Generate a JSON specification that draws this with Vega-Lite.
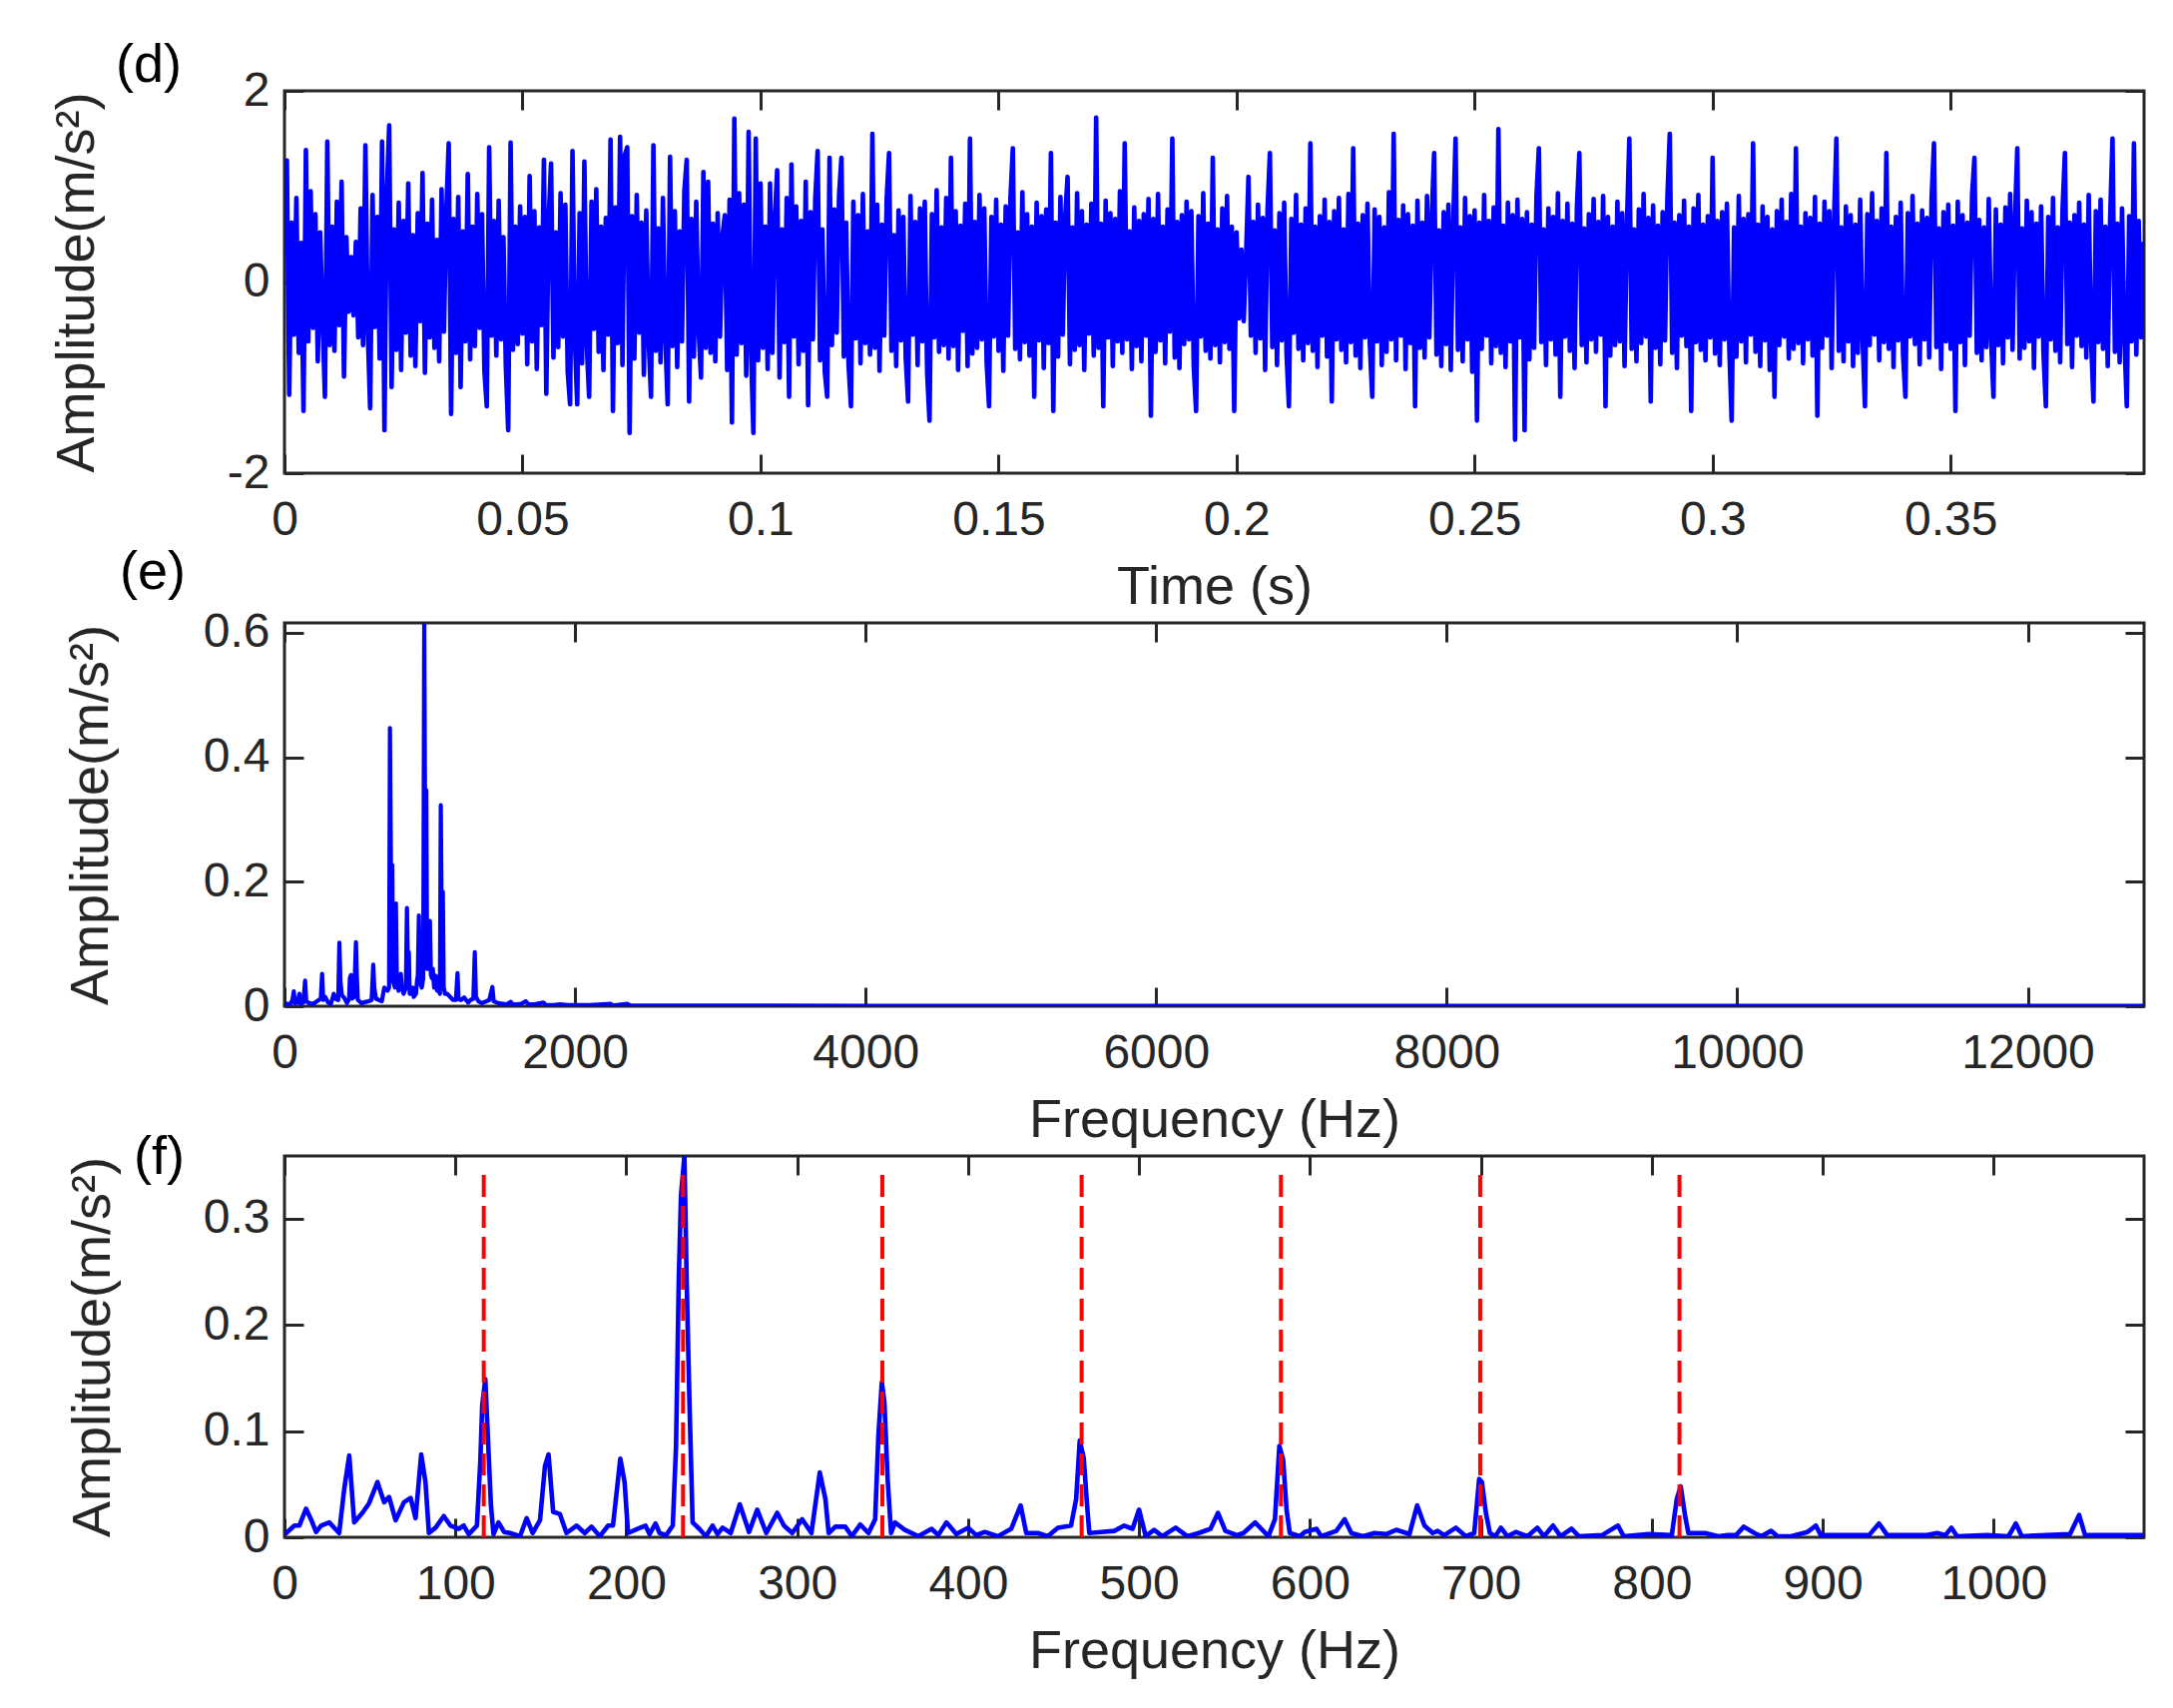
{
"$schema":"https://vega.github.io/schema/vega-lite/v6.json",
"padding":{"left":48,"top":37,"right":0,"bottom":0},
"background":"#ffffff",
"config":{
"font":"Liberation Sans",
"view":{"stroke":"#262626","strokeWidth":3},
"axis":{"domain":false,"grid":false,"tickColor":"#262626","tickWidth":3,"tickSize":-19,"labelFont":"Liberation Sans","labelFontSize":48,"labelColor":"#262626","labelPadding":34,"labelFlush":false,"labelOverlap":false,"titleFont":"Liberation Sans","titleFontSize":54,"titleFontWeight":"normal","titleColor":"#262626"},
"axisX":{"labelPadding":42,"titlePadding":16},
"title":{"font":"Liberation Sans","fontSize":54,"fontWeight":"normal","color":"#000000","anchor":"start","frame":"group","offset":0}
},
"bounds":"flush",
"spacing":150,
"datasets":{
"sig":[
{"t":0,"a":0.35},{"t":0.0005,"a":1.27},{"t":0.001,"a":-1.18},{"t":0.0015,"a":0.62},{"t":0.002,"a":-0.55},{"t":0.0025,"a":0.88},{"t":0.003,"a":-0.74},{"t":0.0035,"a":0.41},{"t":0.004,"a":-1.35},{"t":0.0045,"a":1.38},{"t":0.005,"a":-0.62},{"t":0.0055,"a":0.95},{"t":0.006,"a":-0.48},{"t":0.0065,"a":0.71},{"t":0.007,"a":-0.83},{"t":0.0075,"a":0.52},{"t":0.008,"a":-0.39},{"t":0.0085,"a":-1.2},{"t":0.009,"a":1.47},{"t":0.0095,"a":-0.66},
{"t":0.01,"a":0.58},{"t":0.0105,"a":-0.72},{"t":0.011,"a":0.84},{"t":0.0115,"a":-0.45},{"t":0.012,"a":1.05},{"t":0.0125,"a":-0.99},{"t":0.013,"a":0.47},{"t":0.0135,"a":-0.31},{"t":0.014,"a":0.26},{"t":0.0145,"a":-0.35},{"t":0.015,"a":0.42},{"t":0.0155,"a":-0.58},{"t":0.016,"a":0.77},{"t":0.0165,"a":-0.66},{"t":0.017,"a":1.43},{"t":0.0175,"a":-0.52},{"t":0.018,"a":-1.32},{"t":0.0185,"a":0.91},{"t":0.019,"a":-0.47},{"t":0.0195,"a":0.68},
{"t":0.02,"a":-0.8},{"t":0.0205,"a":1.47},{"t":0.021,"a":-1.55},{"t":0.0215,"a":0.93},{"t":0.022,"a":1.64},{"t":0.0225,"a":-1.1},{"t":0.023,"a":0.55},{"t":0.0235,"a":-0.71},{"t":0.024,"a":0.83},{"t":0.0245,"a":-0.92},{"t":0.025,"a":0.64},{"t":0.0255,"a":-0.53},{"t":0.026,"a":1.03},{"t":0.0265,"a":-0.77},{"t":0.027,"a":0.49},{"t":0.0275,"a":-0.88},{"t":0.028,"a":0.72},{"t":0.0285,"a":-0.41},{"t":0.029,"a":1.14},{"t":0.0295,"a":-0.95},
{"t":0.03,"a":0.61},{"t":0.0305,"a":-0.58},{"t":0.031,"a":0.86},{"t":0.0315,"a":-0.69},{"t":0.032,"a":0.44},{"t":0.0325,"a":-0.83},{"t":0.033,"a":0.97},{"t":0.0335,"a":-0.52},{"t":0.034,"a":0.75},{"t":0.0345,"a":1.45},{"t":0.035,"a":-1.38},{"t":0.0355,"a":0.66},{"t":0.036,"a":-0.74},{"t":0.0365,"a":0.89},{"t":0.037,"a":-1.1},{"t":0.0375,"a":0.53},{"t":0.038,"a":-0.62},{"t":0.0385,"a":1.13},{"t":0.039,"a":-0.81},{"t":0.0395,"a":0.58},
{"t":0.04,"a":-0.67},{"t":0.0405,"a":0.92},{"t":0.041,"a":-0.48},{"t":0.0415,"a":0.71},{"t":0.042,"a":-0.93},{"t":0.0425,"a":-1.3},{"t":0.043,"a":1.41},{"t":0.0435,"a":-0.56},{"t":0.044,"a":0.64},{"t":0.0445,"a":-0.77},{"t":0.045,"a":0.85},{"t":0.0455,"a":-0.6},{"t":0.046,"a":0.47},{"t":0.0465,"a":-0.88},{"t":0.047,"a":-1.55},{"t":0.0475,"a":1.46},{"t":0.048,"a":-0.71},{"t":0.0485,"a":0.58},{"t":0.049,"a":-0.65},{"t":0.0495,"a":0.79},
{"t":0.05,"a":-0.54},{"t":0.0505,"a":0.68},{"t":0.051,"a":-0.86},{"t":0.0515,"a":1.11},{"t":0.052,"a":-0.62},{"t":0.0525,"a":0.74},{"t":0.053,"a":-0.91},{"t":0.0535,"a":0.57},{"t":0.054,"a":-0.45},{"t":0.0545,"a":1.28},{"t":0.055,"a":-1.17},{"t":0.0555,"a":0.66},{"t":0.056,"a":1.24},{"t":0.0565,"a":-0.79},{"t":0.057,"a":0.52},{"t":0.0575,"a":-0.68},{"t":0.058,"a":0.93},{"t":0.0585,"a":-0.57},{"t":0.059,"a":0.81},{"t":0.0595,"a":-0.94},
{"t":0.06,"a":-1.28},{"t":0.0605,"a":1.37},{"t":0.061,"a":-0.61},{"t":0.0615,"a":-1.28},{"t":0.062,"a":0.72},{"t":0.0625,"a":-0.85},{"t":0.063,"a":1.26},{"t":0.0635,"a":-0.66},{"t":0.064,"a":-1.2},{"t":0.0645,"a":0.84},{"t":0.065,"a":-0.49},{"t":0.0655,"a":0.97},{"t":0.066,"a":-0.73},{"t":0.0665,"a":0.58},{"t":0.067,"a":-0.92},{"t":0.0675,"a":0.67},{"t":0.068,"a":-0.55},{"t":0.0685,"a":1.49},{"t":0.069,"a":-1.35},{"t":0.0695,"a":0.78},
{"t":0.07,"a":-0.64},{"t":0.0705,"a":1.52},{"t":0.071,"a":-0.87},{"t":0.0715,"a":1.33},{"t":0.072,"a":1.41},{"t":0.0725,"a":-1.58},{"t":0.073,"a":0.69},{"t":0.0735,"a":-0.8},{"t":0.074,"a":0.91},{"t":0.0745,"a":-0.53},{"t":0.075,"a":0.62},{"t":0.0755,"a":-0.97},{"t":0.076,"a":0.75},{"t":0.0765,"a":-0.61},{"t":0.077,"a":-1.2},{"t":0.0775,"a":1.43},{"t":0.078,"a":-0.72},{"t":0.0785,"a":0.56},{"t":0.079,"a":-0.84},{"t":0.0795,"a":0.88},
{"t":0.08,"a":-0.58},{"t":0.0805,"a":-1.28},{"t":0.081,"a":1.31},{"t":0.0815,"a":-0.67},{"t":0.082,"a":0.74},{"t":0.0825,"a":-0.89},{"t":0.083,"a":0.53},{"t":0.0835,"a":-0.62},{"t":0.084,"a":0.95},{"t":0.0845,"a":1.28},{"t":0.085,"a":-1.25},{"t":0.0855,"a":0.66},{"t":0.086,"a":-0.78},{"t":0.0865,"a":0.84},{"t":0.087,"a":-0.51},{"t":0.0875,"a":-1.0},{"t":0.088,"a":1.15},{"t":0.0885,"a":-0.69},{"t":0.089,"a":1.05},{"t":0.0895,"a":-0.74},
{"t":0.09,"a":0.61},{"t":0.0905,"a":-0.83},{"t":0.091,"a":0.72},{"t":0.0915,"a":-0.57},{"t":0.092,"a":0.48},{"t":0.0925,"a":0.7},{"t":0.093,"a":-0.92},{"t":0.0935,"a":0.86},{"t":0.094,"a":-1.47},{"t":0.0945,"a":1.71},{"t":0.095,"a":-0.76},{"t":0.0955,"a":0.93},{"t":0.096,"a":-0.64},{"t":0.0965,"a":0.81},{"t":0.097,"a":-0.98},{"t":0.0975,"a":1.57},{"t":0.098,"a":-0.7},{"t":0.0985,"a":-1.58},{"t":0.099,"a":1.5},{"t":0.0995,"a":-0.82},
{"t":0.1,"a":1.03},{"t":0.1005,"a":-0.69},{"t":0.101,"a":0.58},{"t":0.1015,"a":-0.91},{"t":0.102,"a":1.03},{"t":0.1025,"a":-0.74},{"t":0.103,"a":0.67},{"t":0.1035,"a":1.17},{"t":0.104,"a":-1.0},{"t":0.1045,"a":0.55},{"t":0.105,"a":-0.63},{"t":0.1055,"a":0.88},{"t":0.106,"a":-1.2},{"t":0.1065,"a":1.23},{"t":0.107,"a":-0.57},{"t":0.1075,"a":0.79},{"t":0.108,"a":-0.86},{"t":0.1085,"a":0.64},{"t":0.109,"a":-0.72},{"t":0.1095,"a":1.05},
{"t":0.11,"a":-1.29},{"t":0.1105,"a":0.73},{"t":0.111,"a":-0.6},{"t":0.1115,"a":0.87},{"t":0.112,"a":1.37},{"t":0.1125,"a":-0.82},{"t":0.113,"a":0.55},{"t":0.1135,"a":-0.94},{"t":0.114,"a":-1.2},{"t":0.1145,"a":1.3},{"t":0.115,"a":-0.66},{"t":0.1155,"a":0.76},{"t":0.116,"a":-0.53},{"t":0.1165,"a":0.91},{"t":0.117,"a":1.3},{"t":0.1175,"a":-0.78},{"t":0.118,"a":0.62},{"t":0.1185,"a":-0.87},{"t":0.119,"a":-1.3},{"t":0.1195,"a":0.84},
{"t":0.12,"a":-0.59},{"t":0.1205,"a":0.7},{"t":0.121,"a":-0.85},{"t":0.1215,"a":0.92},{"t":0.122,"a":-0.64},{"t":0.1225,"a":0.53},{"t":0.123,"a":-0.76},{"t":0.1235,"a":1.55},{"t":0.124,"a":-0.69},{"t":0.1245,"a":0.81},{"t":0.125,"a":-0.93},{"t":0.1255,"a":0.6},{"t":0.126,"a":-0.56},{"t":0.1265,"a":0.87},{"t":0.127,"a":1.35},{"t":0.1275,"a":-0.72},{"t":0.128,"a":0.49},{"t":0.1285,"a":-0.88},{"t":0.129,"a":0.75},{"t":0.1295,"a":-0.61},
{"t":0.13,"a":0.68},{"t":0.1305,"a":-0.79},{"t":0.131,"a":-1.25},{"t":0.1315,"a":0.9},{"t":0.132,"a":-0.55},{"t":0.1325,"a":0.63},{"t":0.133,"a":-0.87},{"t":0.1335,"a":0.77},{"t":0.134,"a":-0.62},{"t":0.1345,"a":0.84},{"t":0.135,"a":-0.95},{"t":0.1355,"a":-1.45},{"t":0.136,"a":0.71},{"t":0.1365,"a":-0.58},{"t":0.137,"a":0.96},{"t":0.1375,"a":-0.73},{"t":0.138,"a":0.57},{"t":0.1385,"a":-0.66},{"t":0.139,"a":0.88},{"t":0.1395,"a":-0.8},
{"t":0.14,"a":1.3},{"t":0.1405,"a":-0.67},{"t":0.141,"a":0.74},{"t":0.1415,"a":-0.92},{"t":0.142,"a":0.59},{"t":0.1425,"a":-0.51},{"t":0.143,"a":0.82},{"t":0.1435,"a":-0.88},{"t":0.144,"a":1.5},{"t":0.1445,"a":-0.75},{"t":0.145,"a":0.63},{"t":0.1455,"a":-0.69},{"t":0.146,"a":0.91},{"t":0.1465,"a":-0.6},{"t":0.147,"a":0.77},{"t":0.1475,"a":-0.84},{"t":0.148,"a":-1.3},{"t":0.1485,"a":0.68},{"t":0.149,"a":-0.57},{"t":0.1495,"a":0.86},
{"t":0.15,"a":-0.72},{"t":0.1505,"a":0.6},{"t":0.151,"a":-0.93},{"t":0.1515,"a":0.79},{"t":0.152,"a":-0.56},{"t":0.1525,"a":0.87},{"t":0.153,"a":1.4},{"t":0.1535,"a":-0.7},{"t":0.154,"a":0.52},{"t":0.1545,"a":-0.81},{"t":0.155,"a":0.94},{"t":0.1555,"a":-0.63},{"t":0.156,"a":0.71},{"t":0.1565,"a":-0.77},{"t":0.157,"a":0.58},{"t":0.1575,"a":-1.2},{"t":0.158,"a":0.83},{"t":0.1585,"a":-0.61},{"t":0.159,"a":0.69},{"t":0.1595,"a":-0.9},
{"t":0.16,"a":0.76},{"t":0.1605,"a":-0.64},{"t":0.161,"a":1.35},{"t":0.1615,"a":-1.35},{"t":0.162,"a":0.62},{"t":0.1625,"a":-0.78},{"t":0.163,"a":0.89},{"t":0.1635,"a":-0.55},{"t":0.164,"a":0.68},{"t":0.1645,"a":1.1},{"t":0.165,"a":-0.86},{"t":0.1655,"a":0.57},{"t":0.166,"a":-0.71},{"t":0.1665,"a":0.93},{"t":0.167,"a":-0.66},{"t":0.1675,"a":0.74},{"t":0.168,"a":-0.92},{"t":0.1685,"a":0.6},{"t":0.169,"a":-0.54},{"t":0.1695,"a":0.82},
{"t":0.17,"a":-0.77},{"t":0.1705,"a":1.72},{"t":0.171,"a":-0.69},{"t":0.1715,"a":0.61},{"t":0.172,"a":-1.3},{"t":0.1725,"a":0.85},{"t":0.173,"a":-0.58},{"t":0.1735,"a":0.72},{"t":0.174,"a":-0.88},{"t":0.1745,"a":0.66},{"t":0.175,"a":-0.62},{"t":0.1755,"a":0.95},{"t":0.176,"a":-0.74},{"t":0.1765,"a":1.45},{"t":0.177,"a":-0.6},{"t":0.1775,"a":0.53},{"t":0.178,"a":-0.91},{"t":0.1785,"a":0.78},{"t":0.179,"a":-0.67},{"t":0.1795,"a":0.64},
{"t":0.18,"a":-0.83},{"t":0.1805,"a":0.71},{"t":0.181,"a":-0.56},{"t":0.1815,"a":0.87},{"t":0.182,"a":-1.4},{"t":0.1825,"a":0.66},{"t":0.183,"a":-0.73},{"t":0.1835,"a":0.92},{"t":0.184,"a":-0.61},{"t":0.1845,"a":0.58},{"t":0.185,"a":-0.85},{"t":0.1855,"a":0.76},{"t":0.186,"a":-0.52},{"t":0.1865,"a":1.5},{"t":0.187,"a":-0.79},{"t":0.1875,"a":0.63},{"t":0.188,"a":-0.9},{"t":0.1885,"a":0.7},{"t":0.189,"a":-0.65},{"t":0.1895,"a":0.84},
{"t":0.19,"a":-0.6},{"t":0.1905,"a":0.74},{"t":0.191,"a":-0.88},{"t":0.1915,"a":-1.35},{"t":0.192,"a":0.69},{"t":0.1925,"a":-0.57},{"t":0.193,"a":0.93},{"t":0.1935,"a":-0.72},{"t":0.194,"a":0.61},{"t":0.1945,"a":-0.8},{"t":0.195,"a":1.3},{"t":0.1955,"a":-0.66},{"t":0.196,"a":0.55},{"t":0.1965,"a":-0.84},{"t":0.197,"a":0.77},{"t":0.1975,"a":-0.63},{"t":0.198,"a":0.9},{"t":0.1985,"a":-0.7},{"t":0.199,"a":0.58},{"t":0.1995,"a":-1.35},
{"t":0.2,"a":0.52},{"t":0.2005,"a":-0.38},{"t":0.201,"a":0.34},{"t":0.2015,"a":-0.41},{"t":0.202,"a":0.29},{"t":0.2025,"a":1.1},{"t":0.203,"a":-0.56},{"t":0.2035,"a":0.63},{"t":0.204,"a":-0.74},{"t":0.2045,"a":0.81},{"t":0.205,"a":-0.59},{"t":0.2055,"a":0.67},{"t":0.206,"a":-0.92},{"t":0.2065,"a":0.75},{"t":0.207,"a":1.35},{"t":0.2075,"a":-0.68},{"t":0.208,"a":0.54},{"t":0.2085,"a":-0.87},{"t":0.209,"a":0.72},{"t":0.2095,"a":-0.61},
{"t":0.21,"a":0.83},{"t":0.2105,"a":-0.75},{"t":0.211,"a":-1.3},{"t":0.2115,"a":0.66},{"t":0.212,"a":-0.53},{"t":0.2125,"a":0.91},{"t":0.213,"a":-0.7},{"t":0.2135,"a":0.6},{"t":0.214,"a":-0.82},{"t":0.2145,"a":0.77},{"t":0.215,"a":-0.64},{"t":0.2155,"a":1.45},{"t":0.216,"a":-0.72},{"t":0.2165,"a":0.58},{"t":0.217,"a":-0.89},{"t":0.2175,"a":0.69},{"t":0.218,"a":-0.56},{"t":0.2185,"a":0.86},{"t":0.219,"a":-0.78},{"t":0.2195,"a":0.63},
{"t":0.22,"a":-1.25},{"t":0.2205,"a":0.74},{"t":0.221,"a":-0.6},{"t":0.2215,"a":0.88},{"t":0.222,"a":-0.71},{"t":0.2225,"a":0.55},{"t":0.223,"a":-0.84},{"t":0.2235,"a":0.92},{"t":0.224,"a":-0.63},{"t":0.2245,"a":1.4},{"t":0.225,"a":-0.77},{"t":0.2255,"a":0.61},{"t":0.226,"a":-0.9},{"t":0.2265,"a":0.7},{"t":0.227,"a":-0.58},{"t":0.2275,"a":0.82},{"t":0.228,"a":-0.66},{"t":0.2285,"a":-1.2},{"t":0.229,"a":0.76},{"t":0.2295,"a":-0.62},
{"t":0.23,"a":0.68},{"t":0.2305,"a":-0.87},{"t":0.231,"a":0.57},{"t":0.2315,"a":-0.73},{"t":0.232,"a":0.94},{"t":0.2325,"a":-0.6},{"t":0.233,"a":1.55},{"t":0.2335,"a":-0.82},{"t":0.234,"a":0.65},{"t":0.2345,"a":-0.56},{"t":0.235,"a":0.8},{"t":0.2355,"a":-0.91},{"t":0.236,"a":0.71},{"t":0.2365,"a":-0.64},{"t":0.237,"a":0.59},{"t":0.2375,"a":-1.3},{"t":0.238,"a":0.85},{"t":0.2385,"a":-0.69},{"t":0.239,"a":0.62},{"t":0.2395,"a":-0.79},
{"t":0.24,"a":0.9},{"t":0.2405,"a":-0.58},{"t":0.241,"a":0.67},{"t":0.2415,"a":1.35},{"t":0.242,"a":-0.76},{"t":0.2425,"a":0.54},{"t":0.243,"a":-0.88},{"t":0.2435,"a":0.73},{"t":0.244,"a":-0.65},{"t":0.2445,"a":0.81},{"t":0.245,"a":-0.92},{"t":0.2455,"a":0.6},{"t":0.246,"a":1.5},{"t":0.2465,"a":-0.71},{"t":0.247,"a":0.57},{"t":0.2475,"a":-0.83},{"t":0.248,"a":0.88},{"t":0.2485,"a":-0.6},{"t":0.249,"a":0.69},{"t":0.2495,"a":-0.94},
{"t":0.25,"a":0.75},{"t":0.2505,"a":-1.45},{"t":0.251,"a":0.62},{"t":0.2515,"a":-0.7},{"t":0.252,"a":0.91},{"t":0.2525,"a":-0.56},{"t":0.253,"a":0.64},{"t":0.2535,"a":-0.85},{"t":0.254,"a":0.78},{"t":0.2545,"a":-0.67},{"t":0.255,"a":1.6},{"t":0.2555,"a":-0.74},{"t":0.256,"a":0.59},{"t":0.2565,"a":-0.89},{"t":0.257,"a":0.83},{"t":0.2575,"a":-0.62},{"t":0.258,"a":0.7},{"t":0.2585,"a":-1.65},{"t":0.259,"a":0.86},{"t":0.2595,"a":-0.58},
{"t":0.26,"a":0.66},{"t":0.2605,"a":-1.55},{"t":0.261,"a":0.73},{"t":0.2615,"a":-0.81},{"t":0.262,"a":0.6},{"t":0.2625,"a":-0.69},{"t":0.263,"a":0.9},{"t":0.2635,"a":1.4},{"t":0.264,"a":-0.63},{"t":0.2645,"a":0.55},{"t":0.265,"a":-0.87},{"t":0.2655,"a":0.77},{"t":0.266,"a":-0.6},{"t":0.2665,"a":0.68},{"t":0.267,"a":-0.76},{"t":0.2675,"a":0.93},{"t":0.268,"a":-1.2},{"t":0.2685,"a":0.64},{"t":0.269,"a":-0.57},{"t":0.2695,"a":0.82},
{"t":0.27,"a":-0.72},{"t":0.2705,"a":0.61},{"t":0.271,"a":-0.9},{"t":0.2715,"a":0.79},{"t":0.272,"a":1.35},{"t":0.2725,"a":-0.66},{"t":0.273,"a":0.56},{"t":0.2735,"a":-0.84},{"t":0.274,"a":0.71},{"t":0.2745,"a":-0.6},{"t":0.275,"a":0.87},{"t":0.2755,"a":-0.73},{"t":0.276,"a":0.63},{"t":0.2765,"a":-0.55},{"t":0.277,"a":0.9},{"t":0.2775,"a":-1.3},{"t":0.278,"a":0.68},{"t":0.2785,"a":-0.77},{"t":0.279,"a":0.58},{"t":0.2795,"a":-0.66},
{"t":0.28,"a":0.84},{"t":0.2805,"a":-0.62},{"t":0.281,"a":0.72},{"t":0.2815,"a":-0.88},{"t":0.282,"a":0.6},{"t":0.2825,"a":1.5},{"t":0.283,"a":-0.7},{"t":0.2835,"a":0.55},{"t":0.284,"a":-0.83},{"t":0.2845,"a":0.76},{"t":0.285,"a":-0.64},{"t":0.2855,"a":0.92},{"t":0.286,"a":-0.57},{"t":0.2865,"a":0.67},{"t":0.287,"a":-1.25},{"t":0.2875,"a":0.8},{"t":0.288,"a":-0.69},{"t":0.2885,"a":0.59},{"t":0.289,"a":-0.86},{"t":0.2895,"a":0.73},
{"t":0.29,"a":-0.61},{"t":0.2905,"a":0.88},{"t":0.291,"a":1.55},{"t":0.2915,"a":-0.74},{"t":0.292,"a":0.62},{"t":0.2925,"a":-0.9},{"t":0.293,"a":0.7},{"t":0.2935,"a":-0.56},{"t":0.294,"a":0.85},{"t":0.2945,"a":-0.67},{"t":0.295,"a":0.58},{"t":0.2955,"a":-1.35},{"t":0.296,"a":0.77},{"t":0.2965,"a":-0.63},{"t":0.297,"a":0.91},{"t":0.2975,"a":-0.71},{"t":0.298,"a":0.6},{"t":0.2985,"a":-0.82},{"t":0.299,"a":0.69},{"t":0.2995,"a":-0.58},
{"t":0.3,"a":1.3},{"t":0.3005,"a":-0.75},{"t":0.301,"a":0.64},{"t":0.3015,"a":-0.87},{"t":0.302,"a":0.73},{"t":0.3025,"a":-0.6},{"t":0.303,"a":0.82},{"t":0.3035,"a":-0.69},{"t":0.304,"a":-1.45},{"t":0.3045,"a":0.57},{"t":0.305,"a":-0.78},{"t":0.3055,"a":0.9},{"t":0.306,"a":-0.62},{"t":0.3065,"a":0.66},{"t":0.307,"a":-0.84},{"t":0.3075,"a":0.71},{"t":0.308,"a":-0.55},{"t":0.3085,"a":1.45},{"t":0.309,"a":-0.73},{"t":0.3095,"a":0.6},
{"t":0.31,"a":-0.88},{"t":0.3105,"a":0.79},{"t":0.311,"a":-0.61},{"t":0.3115,"a":0.68},{"t":0.312,"a":-0.92},{"t":0.3125,"a":0.55},{"t":0.313,"a":-1.2},{"t":0.3135,"a":0.74},{"t":0.314,"a":-0.66},{"t":0.3145,"a":0.86},{"t":0.315,"a":-0.57},{"t":0.3155,"a":0.63},{"t":0.316,"a":-0.8},{"t":0.3165,"a":0.92},{"t":0.317,"a":-0.7},{"t":0.3175,"a":1.4},{"t":0.318,"a":-0.64},{"t":0.3185,"a":0.58},{"t":0.319,"a":-0.85},{"t":0.3195,"a":0.72},
{"t":0.32,"a":-0.6},{"t":0.3205,"a":0.67},{"t":0.321,"a":-0.77},{"t":0.3215,"a":0.89},{"t":0.322,"a":-1.4},{"t":0.3225,"a":0.61},{"t":0.323,"a":-0.69},{"t":0.3235,"a":0.84},{"t":0.324,"a":-0.56},{"t":0.3245,"a":0.74},{"t":0.325,"a":-0.9},{"t":0.3255,"a":0.65},{"t":0.326,"a":1.5},{"t":0.3265,"a":-0.72},{"t":0.327,"a":0.57},{"t":0.3275,"a":-0.83},{"t":0.328,"a":0.79},{"t":0.3285,"a":-0.62},{"t":0.329,"a":0.7},{"t":0.3295,"a":-0.88},
{"t":0.33,"a":0.6},{"t":0.3305,"a":-0.74},{"t":0.331,"a":0.86},{"t":0.3315,"a":-0.59},{"t":0.332,"a":-1.3},{"t":0.3325,"a":0.71},{"t":0.333,"a":-0.66},{"t":0.3335,"a":0.93},{"t":0.334,"a":-0.55},{"t":0.3345,"a":0.64},{"t":0.335,"a":-0.82},{"t":0.3355,"a":0.77},{"t":0.336,"a":-0.63},{"t":0.3365,"a":1.35},{"t":0.337,"a":-0.7},{"t":0.3375,"a":0.58},{"t":0.338,"a":-0.89},{"t":0.3385,"a":0.68},{"t":0.339,"a":-0.61},{"t":0.3395,"a":0.83},
{"t":0.34,"a":-0.76},{"t":0.3405,"a":-1.2},{"t":0.341,"a":0.72},{"t":0.3415,"a":-0.57},{"t":0.342,"a":0.9},{"t":0.3425,"a":-0.65},{"t":0.343,"a":0.61},{"t":0.3435,"a":-0.86},{"t":0.344,"a":0.75},{"t":0.3445,"a":-0.6},{"t":0.345,"a":0.67},{"t":0.3455,"a":-0.79},{"t":0.346,"a":0.88},{"t":0.3465,"a":1.45},{"t":0.347,"a":-0.68},{"t":0.3475,"a":0.56},{"t":0.348,"a":-0.91},{"t":0.3485,"a":0.73},{"t":0.349,"a":-0.62},{"t":0.3495,"a":0.81},
{"t":0.35,"a":-0.7},{"t":0.3505,"a":0.59},{"t":0.351,"a":-1.35},{"t":0.3515,"a":0.84},{"t":0.352,"a":-0.63},{"t":0.3525,"a":0.7},{"t":0.353,"a":-0.87},{"t":0.3535,"a":0.62},{"t":0.354,"a":-0.56},{"t":0.3545,"a":0.91},{"t":0.355,"a":1.3},{"t":0.3555,"a":-0.74},{"t":0.356,"a":0.65},{"t":0.3565,"a":-0.82},{"t":0.357,"a":0.57},{"t":0.3575,"a":-0.68},{"t":0.358,"a":0.87},{"t":0.3585,"a":-0.6},{"t":0.359,"a":-1.2},{"t":0.3595,"a":0.76},
{"t":0.36,"a":-0.66},{"t":0.3605,"a":0.6},{"t":0.361,"a":-0.85},{"t":0.3615,"a":0.78},{"t":0.362,"a":-0.58},{"t":0.3625,"a":0.92},{"t":0.363,"a":-0.71},{"t":0.3635,"a":0.64},{"t":0.364,"a":1.4},{"t":0.3645,"a":-0.8},{"t":0.365,"a":0.56},{"t":0.3655,"a":-0.69},{"t":0.366,"a":0.85},{"t":0.3665,"a":-0.62},{"t":0.367,"a":0.73},{"t":0.3675,"a":-0.9},{"t":0.368,"a":0.61},{"t":0.3685,"a":-0.57},{"t":0.369,"a":0.79},{"t":0.3695,"a":-0.74},
{"t":0.37,"a":-1.3},{"t":0.3705,"a":0.68},{"t":0.371,"a":-0.6},{"t":0.3715,"a":0.88},{"t":0.372,"a":-0.72},{"t":0.3725,"a":0.57},{"t":0.373,"a":-0.84},{"t":0.3735,"a":0.75},{"t":0.374,"a":1.35},{"t":0.3745,"a":-0.65},{"t":0.375,"a":0.62},{"t":0.3755,"a":-0.89},{"t":0.376,"a":0.7},{"t":0.3765,"a":-0.56},{"t":0.377,"a":0.83},{"t":0.3775,"a":-0.67},{"t":0.378,"a":0.6},{"t":0.3785,"a":-0.79},{"t":0.379,"a":0.91},{"t":0.3795,"a":-0.61},
{"t":0.38,"a":-1.25},{"t":0.3805,"a":0.74},{"t":0.381,"a":-0.63},{"t":0.3815,"a":0.86},{"t":0.382,"a":-0.7},{"t":0.3825,"a":0.58},{"t":0.383,"a":-0.88},{"t":0.3835,"a":0.66},{"t":0.384,"a":1.5},{"t":0.3845,"a":-0.73},{"t":0.385,"a":0.61},{"t":0.3855,"a":-0.84},{"t":0.386,"a":0.77},{"t":0.3865,"a":-0.59},{"t":0.387,"a":-1.3},{"t":0.3875,"a":0.69},{"t":0.388,"a":-0.62},{"t":0.3885,"a":1.45},{"t":0.389,"a":-0.76},{"t":0.3895,"a":0.64},
{"t":0.39,"a":-0.58},{"t":0.3905,"a":0.42}
],
"spec":[
{"f":0,"a":0.002},{"f":20,"a":0.004},{"f":40,"a":0.003},{"f":55,"a":0.01},{"f":64,"a":0.024},{"f":72,"a":0.005},{"f":90,"a":0.006},{"f":103,"a":0.02},{"f":110,"a":0.004},{"f":130,"a":0.006},{"f":142,"a":0.041},{"f":150,"a":0.008},{"f":170,"a":0.005},{"f":200,"a":0.004},{"f":230,"a":0.009},{"f":250,"a":0.012},{"f":259,"a":0.052},{"f":267,"a":0.01},{"f":280,"a":0.015},{"f":300,"a":0.006},{"f":320,"a":0.004},{"f":339,"a":0.02},{"f":350,"a":0.012},{"f":370,"a":0.01},{"f":378,"a":0.102},{"f":385,"a":0.04},{"f":395,"a":0.018},{"f":410,"a":0.014},{"f":430,"a":0.005},{"f":445,"a":0.012},{"f":450,"a":0.045},{"f":458,"a":0.05},{"f":465,"a":0.012},{"f":480,"a":0.015},{"f":492,"a":0.103},{"f":498,"a":0.05},{"f":505,"a":0.01},{"f":530,"a":0.005},{"f":560,"a":0.007},{"f":580,"a":0.008},{"f":600,"a":0.01},{"f":611,"a":0.067},{"f":618,"a":0.03},{"f":630,"a":0.012},{"f":650,"a":0.01},{"f":670,"a":0.008},{"f":687,"a":0.03},{"f":695,"a":0.028},{"f":710,"a":0.025},{"f":720,"a":0.03},{"f":726,"a":0.447},{"f":732,"a":0.25},{"f":738,"a":0.05},{"f":742,"a":0.227},{"f":748,"a":0.04},{"f":760,"a":0.03},{"f":767,"a":0.165},{"f":773,"a":0.05},{"f":785,"a":0.025},{"f":795,"a":0.035},{"f":801,"a":0.052},{"f":808,"a":0.03},{"f":820,"a":0.02},{"f":836,"a":0.03},{"f":843,"a":0.158},{"f":850,"a":0.06},{"f":856,"a":0.087},{"f":862,"a":0.02},{"f":875,"a":0.02},{"f":882,"a":0.03},{"f":890,"a":0.015},{"f":905,"a":0.02},{"f":912,"a":0.04},{"f":918,"a":0.05},{"f":925,"a":0.146},{"f":932,"a":0.04},{"f":945,"a":0.03},{"f":955,"a":0.045},{"f":962,"a":0.616},{"f":968,"a":0.3},{"f":976,"a":0.347},{"f":982,"a":0.06},{"f":989,"a":0.102},{"f":995,"a":0.06},{"f":1001,"a":0.137},{"f":1008,"a":0.05},{"f":1015,"a":0.045},{"f":1021,"a":0.06},{"f":1030,"a":0.03},{"f":1042,"a":0.049},{"f":1050,"a":0.025},{"f":1062,"a":0.025},{"f":1070,"a":0.02},{"f":1076,"a":0.323},{"f":1082,"a":0.14},{"f":1090,"a":0.184},{"f":1096,"a":0.03},{"f":1105,"a":0.02},{"f":1120,"a":0.02},{"f":1140,"a":0.015},{"f":1160,"a":0.01},{"f":1180,"a":0.01},{"f":1191,"a":0.053},{"f":1198,"a":0.012},{"f":1215,"a":0.01},{"f":1237,"a":0.014},{"f":1250,"a":0.01},{"f":1265,"a":0.006},{"f":1280,"a":0.01},{"f":1300,"a":0.012},{"f":1310,"a":0.087},{"f":1318,"a":0.015},{"f":1335,"a":0.008},{"f":1360,"a":0.005},{"f":1390,"a":0.008},{"f":1410,"a":0.01},{"f":1431,"a":0.031},{"f":1440,"a":0.008},{"f":1470,"a":0.005},{"f":1500,"a":0.004},{"f":1530,"a":0.003},{"f":1557,"a":0.007},{"f":1570,"a":0.003},{"f":1600,"a":0.003},{"f":1630,"a":0.004},{"f":1660,"a":0.008},{"f":1680,"a":0.003},{"f":1720,"a":0.003},{"f":1782,"a":0.006},{"f":1800,"a":0.002},{"f":1850,"a":0.002},{"f":1900,"a":0.003},{"f":1950,"a":0.002},{"f":2000,"a":0.002},{"f":2100,"a":0.002},{"f":2244,"a":0.004},{"f":2260,"a":0.001},{"f":2359,"a":0.004},{"f":2380,"a":0.001},{"f":2600,"a":0.001},{"f":3000,"a":0.001},{"f":4000,"a":0.0005},{"f":6000,"a":0.0005},{"f":8000,"a":0.0005},{"f":10000,"a":0.0005},{"f":12800,"a":0.0005}
],
"env":[
{"f":0.4,"a":0.003},{"f":5.8,"a":0.011},{"f":8.7,"a":0.011},{"f":12.6,"a":0.027},{"f":15.5,"a":0.017},{"f":18.5,"a":0.005},{"f":21.4,"a":0.011},{"f":26.2,"a":0.014},{"f":32,"a":0.004},{"f":35,"a":0.046},{"f":37.9,"a":0.077},{"f":40.8,"a":0.014},{"f":45.6,"a":0.023},{"f":49.5,"a":0.032},{"f":54.4,"a":0.052},{"f":58.3,"a":0.033},{"f":61.2,"a":0.038},{"f":65,"a":0.016},{"f":69.9,"a":0.033},{"f":73.8,"a":0.037},{"f":76.7,"a":0.018},{"f":80,"a":0.078},{"f":82.5,"a":0.052},{"f":84.5,"a":0.004},{"f":88.4,"a":0.009},{"f":93.2,"a":0.02},{"f":97.1,"a":0.011},{"f":102,"a":0.008},{"f":104.9,"a":0.011},{"f":107.8,"a":0.003},{"f":112.6,"a":0.011},{"f":114.6,"a":0.072},{"f":115.7,"a":0.124},{"f":117.5,"a":0.149},{"f":118.8,"a":0.102},{"f":120.8,"a":0.03},{"f":122.3,"a":0.003},{"f":125.2,"a":0.014},{"f":128.5,"a":0.005},{"f":132,"a":0.004},{"f":137.8,"a":0.001},{"f":141.7,"a":0.018},{"f":145.2,"a":0.004},{"f":149.5,"a":0.016},{"f":152.4,"a":0.067},{"f":154.5,"a":0.078},{"f":157.2,"a":0.024},{"f":161.1,"a":0.022},{"f":165,"a":0.004},{"f":170.9,"a":0.011},{"f":175.7,"a":0.004},{"f":179.6,"a":0.01},{"f":184.5,"a":0.001},{"f":189.4,"a":0.011},{"f":192.2,"a":0.011},{"f":196.5,"a":0.074},{"f":199,"a":0.052},{"f":201,"a":0.004},{"f":206.8,"a":0.008},{"f":211.2,"a":0.011},{"f":213.6,"a":0.003},{"f":217.1,"a":0.013},{"f":219.4,"a":0.004},{"f":223.3,"a":0.002},{"f":227.2,"a":0.011},{"f":229.1,"a":0.086},{"f":230.7,"a":0.243},{"f":232,"a":0.322},{"f":234,"a":0.359},{"f":235.3,"a":0.243},{"f":236.9,"a":0.13},{"f":238.8,"a":0.014},{"f":242.7,"a":0.008},{"f":246.6,"a":0.001},{"f":250.5,"a":0.011},{"f":253.4,"a":0.003},{"f":256.3,"a":0.009},{"f":261.1,"a":0.004},{"f":266.4,"a":0.031},{"f":271.8,"a":0.005},{"f":276.6,"a":0.026},{"f":281.9,"a":0.004},{"f":288.3,"a":0.023},{"f":292.2,"a":0.011},{"f":297.1,"a":0.004},{"f":302.9,"a":0.017},{"f":308.3,"a":0.004},{"f":313.2,"a":0.061},{"f":316.5,"a":0.036},{"f":318.4,"a":0.004},{"f":322.3,"a":0.01},{"f":328.1,"a":0.01},{"f":332,"a":0.001},{"f":336.8,"a":0.012},{"f":341.7,"a":0.004},{"f":345.6,"a":0.017},{"f":347.5,"a":0.096},{"f":349.5,"a":0.146},{"f":351,"a":0.127},{"f":352.9,"a":0.055},{"f":354.9,"a":0.004},{"f":357.2,"a":0.014},{"f":363,"a":0.007},{"f":370.8,"a":0.001},{"f":378.6,"a":0.008},{"f":382.5,"a":0.002},{"f":387.3,"a":0.014},{"f":393.1,"a":0.003},{"f":400,"a":0.009},{"f":404.8,"a":0.002},{"f":409.7,"a":0.005},{"f":417.4,"a":0.001},{"f":425.2,"a":0.008},{"f":430.7,"a":0.03},{"f":434,"a":0.004},{"f":440.8,"a":0.004},{"f":446.6,"a":0.001},{"f":452.5,"a":0.009},{"f":460.2,"a":0.011},{"f":463.2,"a":0.036},{"f":465.3,"a":0.091},{"f":467.6,"a":0.075},{"f":469.6,"a":0.03},{"f":470.9,"a":0.004},{"f":477.7,"a":0.005},{"f":485.5,"a":0.006},{"f":491.3,"a":0.011},{"f":496.2,"a":0.008},{"f":500,"a":0.026},{"f":503.9,"a":0.001},{"f":508.8,"a":0.007},{"f":513.6,"a":0.001},{"f":521.4,"a":0.009},{"f":528.2,"a":0.001},{"f":535,"a":0.004},{"f":541.8,"a":0.008},{"f":546.2,"a":0.023},{"f":550.5,"a":0.006},{"f":557.3,"a":0.002},{"f":561.1,"a":0.004},{"f":567.9,"a":0.014},{"f":575.7,"a":0.001},{"f":579.5,"a":0.017},{"f":582.1,"a":0.086},{"f":584.3,"a":0.073},{"f":586.3,"a":0.026},{"f":588.2,"a":0.004},{"f":594,"a":0.001},{"f":596.9,"a":0.005},{"f":603.8,"a":0.008},{"f":606.7,"a":0.001},{"f":615.4,"a":0.006},{"f":620.3,"a":0.017},{"f":624.2,"a":0.004},{"f":631,"a":0.001},{"f":637.8,"a":0.004},{"f":644.6,"a":0.003},{"f":650.4,"a":0.007},{"f":658.2,"a":0.003},{"f":662.7,"a":0.03},{"f":667,"a":0.011},{"f":671.8,"a":0.004},{"f":674.7,"a":0.006},{"f":678.6,"a":0.002},{"f":685.4,"a":0.009},{"f":691.2,"a":0.001},{"f":696.1,"a":0.004},{"f":699,"a":0.055},{"f":700.6,"a":0.052},{"f":702.9,"a":0.023},{"f":705.3,"a":0.004},{"f":708.4,"a":0.001},{"f":711.7,"a":0.009},{"f":715.5,"a":0.001},{"f":720.4,"a":0.005},{"f":727.2,"a":0.001},{"f":733,"a":0.009},{"f":736.9,"a":0.001},{"f":742.2,"a":0.011},{"f":746.6,"a":0.001},{"f":753,"a":0.008},{"f":757.3,"a":0.001},{"f":770.9,"a":0.002},{"f":780.2,"a":0.011},{"f":783.5,"a":0.001},{"f":798.1,"a":0.003},{"f":811.7,"a":0.002},{"f":814.6,"a":0.036},{"f":816.9,"a":0.048},{"f":819.5,"a":0.02},{"f":821.4,"a":0.004},{"f":831.1,"a":0.004},{"f":838.9,"a":0.001},{"f":844.5,"a":0.002},{"f":849.3,"a":0.002},{"f":853.8,"a":0.01},{"f":860,"a":0.004},{"f":863.9,"a":0.001},{"f":869.8,"a":0.006},{"f":873.6,"a":0.001},{"f":881.4,"a":0.001},{"f":891.1,"a":0.005},{"f":896,"a":0.011},{"f":898.9,"a":0.002},{"f":914.4,"a":0.002},{"f":927.1,"a":0.002},{"f":932.9,"a":0.013},{"f":937.8,"a":0.002},{"f":961.1,"a":0.002},{"f":966.9,"a":0.004},{"f":971.8,"a":0.002},{"f":975.3,"a":0.009},{"f":978.6,"a":0.001},{"f":996.1,"a":0.002},{"f":1008.7,"a":0.001},{"f":1013,"a":0.013},{"f":1016.5,"a":0.001},{"f":1044.7,"a":0.003},{"f":1050,"a":0.021},{"f":1053.5,"a":0.002},{"f":1084.6,"a":0.002},{"f":1088,"a":0.002}
],
"harm":[{"f":116.6},{"f":233.2},{"f":349.8},{"f":466.4},{"f":583},{"f":699.6},{"f":816.2}]
},
"vconcat":[
{
"width":1863,"height":383,
"title":{"text":"(d)","dx":-169,"dy":30},
"layer":[
{"data":{"name":"sig"},"mark":{"type":"line","color":"#0000FF","strokeWidth":4.6,"strokeJoin":"round","clip":true},
"encoding":{
"x":{"field":"t","type":"quantitative","scale":{"domain":[0,0.390625],"nice":false,"zero":false},"axis":{"values":[0,0.05,0.1,0.15,0.2,0.25,0.3,0.35],"title":"Time (s)","labelExpr":"'' + datum.value"}},
"y":{"field":"a","type":"quantitative","scale":{"domain":[-2,2],"nice":false,"zero":false},"axis":{"values":[-2,0,2],"title":"Amplitude(m/s²)","titlePadding":123,"labelExpr":"'' + datum.value"}}}},
{"data":{"name":"sig"},"mark":{"type":"line","opacity":0},
"encoding":{
"x":{"field":"t","type":"quantitative","scale":{"domain":[0,0.390625],"nice":false,"zero":false},"axis":{"orient":"top","values":[0,0.05,0.1,0.15,0.2,0.25,0.3,0.35],"labels":false,"title":null}},
"y":{"field":"a","type":"quantitative","scale":{"domain":[-2,2],"nice":false,"zero":false},"axis":{"orient":"right","values":[-2,0,2],"labels":false,"title":null}}}}
],
"resolve":{"axis":{"x":"independent","y":"independent"}}
},
{
"width":1863,"height":384,
"title":{"text":"(e)","dx":-165,"dy":-5},
"layer":[
{"data":{"name":"spec"},"mark":{"type":"line","color":"#0000FF","strokeWidth":4.2,"strokeJoin":"round","clip":true},
"encoding":{
"x":{"field":"f","type":"quantitative","scale":{"domain":[0,12800],"nice":false,"zero":false},"axis":{"values":[0,2000,4000,6000,8000,10000,12000],"title":"Frequency (Hz)","labelExpr":"'' + datum.value"}},
"y":{"field":"a","type":"quantitative","scale":{"domain":[0,0.616],"nice":false},"axis":{"values":[0,0.2,0.4,0.6],"title":"Amplitude(m/s²)","titlePadding":85,"labelExpr":"'' + datum.value"}}}},
{"data":{"name":"spec"},"mark":{"type":"line","opacity":0},
"encoding":{
"x":{"field":"f","type":"quantitative","scale":{"domain":[0,12800],"nice":false,"zero":false},"axis":{"orient":"top","values":[0,2000,4000,6000,8000,10000,12000],"labels":false,"title":null}},
"y":{"field":"a","type":"quantitative","scale":{"domain":[0,0.616],"nice":false},"axis":{"orient":"right","values":[0,0.2,0.4,0.6],"labels":false,"title":null}}}}
],
"resolve":{"axis":{"x":"independent","y":"independent"}}
},
{
"width":1863,"height":382,
"title":{"text":"(f)","dx":-151,"dy":34},
"layer":[
{"data":{"name":"env"},"mark":{"type":"line","color":"#0000FF","strokeWidth":4.6,"strokeJoin":"round","clip":true},
"encoding":{
"x":{"field":"f","type":"quantitative","scale":{"domain":[0,1088],"nice":false,"zero":false},"axis":{"values":[0,100,200,300,400,500,600,700,800,900,1000],"title":"Frequency (Hz)","labelExpr":"'' + datum.value"}},
"y":{"field":"a","type":"quantitative","scale":{"domain":[0,0.359],"nice":false},"axis":{"values":[0,0.1,0.2,0.3],"title":"Amplitude(m/s²)","titlePadding":83,"labelExpr":"'' + datum.value"}}}},
{"data":{"name":"harm"},"mark":{"type":"rule","color":"#FF0000","strokeWidth":4,"strokeDash":[22,9]},
"encoding":{
"x":{"field":"f","type":"quantitative","scale":{"domain":[0,1088],"nice":false,"zero":false},"axis":{"orient":"top","values":[0,100,200,300,400,500,600,700,800,900,1000],"labels":false,"title":null}},
"y":{"datum":0,"type":"quantitative","scale":{"domain":[0,0.359],"nice":false},"axis":{"orient":"right","values":[0,0.1,0.2,0.3],"labels":false,"title":null}},
"y2":{"datum":0.348}}}
],
"resolve":{"axis":{"x":"independent","y":"independent"}}
}
]
}
